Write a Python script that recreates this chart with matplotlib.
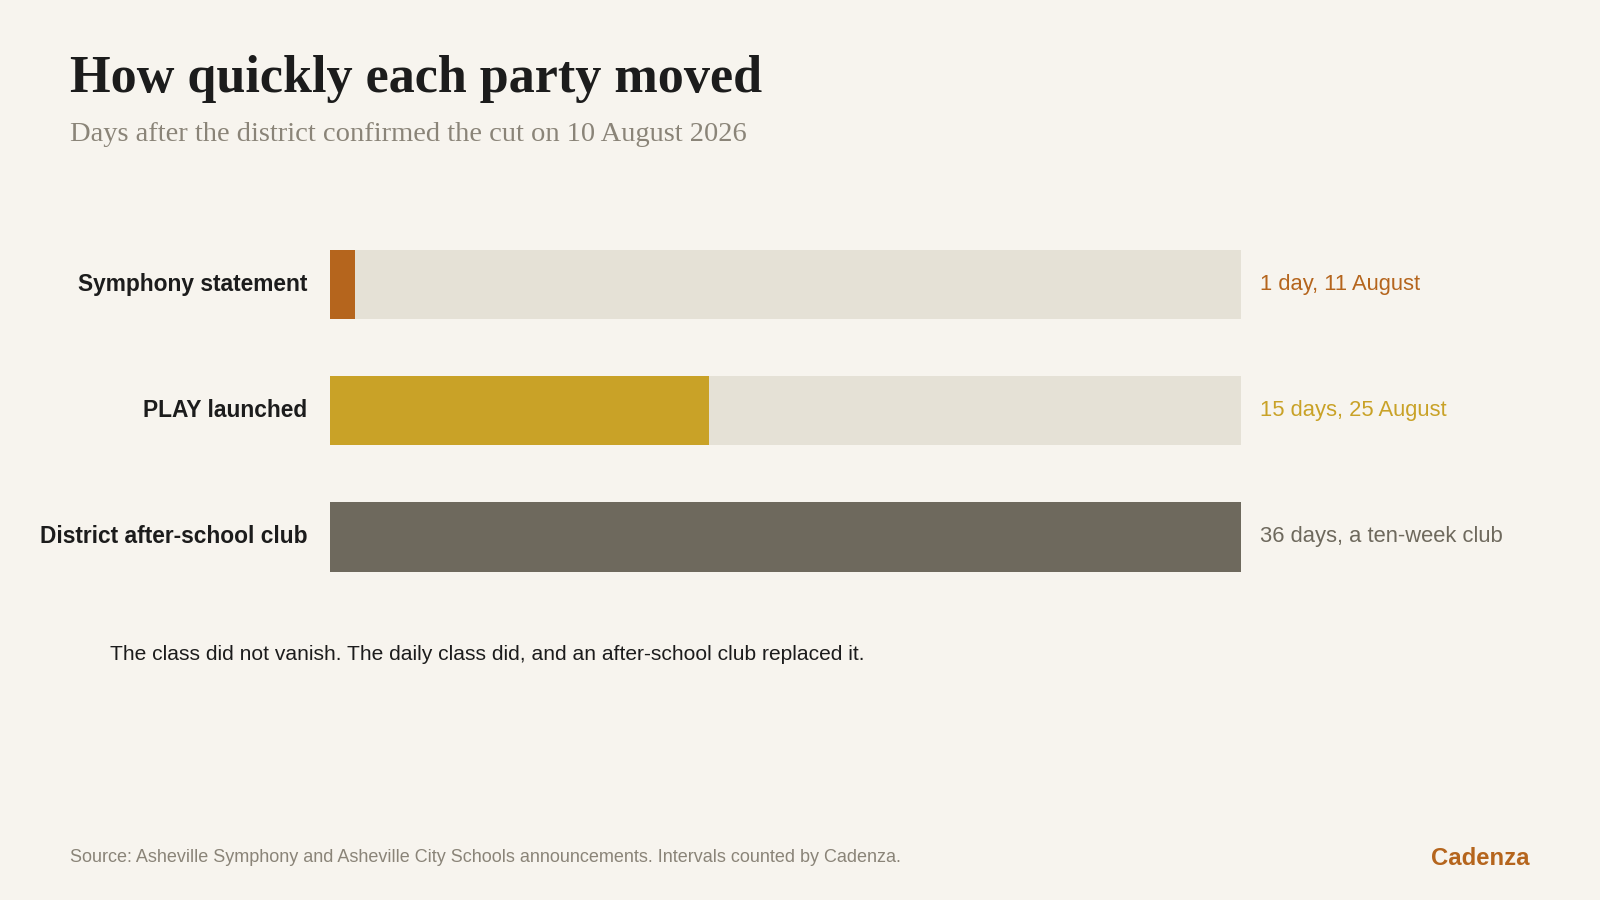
import matplotlib
matplotlib.use("Agg")
import matplotlib.pyplot as plt

categories = ["Symphony statement", "PLAY launched", "District after-school club"]
days = [1, 15, 36]
value_labels = ["1 day, 11 August", "15 days, 25 August", "36 days, a ten-week club"]
track_max = 36

colors = ["#b5651d", "#c9a227", "#6e695d"]
track_color = "#e5e1d6"
bg = "#f7f4ee"

W, H = 1568, 882
fig = plt.figure(figsize=(16, 9), dpi=100, facecolor=bg)

def fx(x): return x / W
def fy(y): return 1 - y / H

ax = fig.add_axes([fx(323), fy(588), fx(1216) - fx(323), (588 - 217) / H])
ax.set_facecolor(bg)
ypos = list(range(len(categories)))
ax.barh(ypos, [track_max] * len(categories), height=0.55, color=track_color, linewidth=0)
ax.barh(ypos, days, height=0.55, color=colors, linewidth=0)
ax.set_xlim(0, track_max)
ax.set_ylim(len(categories) - 0.5, -0.5)
ax.axis("off")

tr = ax.get_yaxis_transform()
for i, (cat, lab, c) in enumerate(zip(categories, value_labels, colors)):
    ax.text(-0.0246, i, cat, transform=tr, ha="right", va="center",
            fontsize=16.4, fontweight="bold", color="#1c1c1c", family="Liberation Sans")
    ax.text(1.0213, i, lab, transform=tr, ha="left", va="center",
            fontsize=15.8, color=c, family="Liberation Sans")

fig.text(fx(69), fy(90), "How quickly each party moved", ha="left", va="baseline",
         fontsize=37.5, fontweight="bold", color="#1c1c1c", family="Liberation Serif")
fig.text(fx(69), fy(138), "Days after the district confirmed the cut on 10 August 2026",
         ha="left", va="baseline", fontsize=20.5, color="#8a8478", family="Liberation Serif")

fig.text(fx(108), fy(641), "The class did not vanish. The daily class did, and an after-school club replaced it.",
         ha="left", va="center", fontsize=15.1, color="#1c1c1c", family="Liberation Sans")

fig.text(fx(69), fy(840), "Source: Asheville Symphony and Asheville City Schools announcements. Intervals counted by Cadenza.",
         ha="left", va="center", fontsize=12.95, color="#8a8478", family="Liberation Sans")
fig.text(fx(1499), fy(841), "Cadenza", ha="right", va="center",
         fontsize=17.2, fontweight="bold", color="#b5651d", family="Liberation Sans")

fig.savefig("out.png", dpi=100, facecolor=bg)
